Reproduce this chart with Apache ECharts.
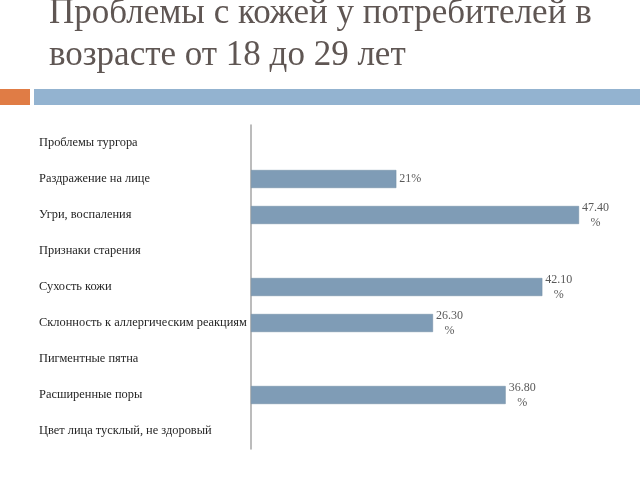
<!DOCTYPE html>
<html><head><meta charset="utf-8">
<script src="https://cdn.jsdelivr.net/npm/echarts@6/dist/echarts.min.js"></script>
<style>html,body{margin:0;padding:0;background:#fff}#c{width:640px;height:480px}</style>
</head><body><div id="c"></div>
<script>
var titleLines = ['Проблемы с кожей у потребителей в', 'возрасте от 18 до 29 лет'];
var categories = ['Проблемы тургора','Раздражение на лице','Угри, воспаления','Признаки старения','Сухость кожи','Склонность к аллергическим реакциям','Пигментные пятна','Расширенные поры','Цвет лица тусклый, не здоровый'];
var values = [null, 21, 47.4, null, 42.1, 26.3, null, 36.8, null];
var valueLabels = ['', '21%', '47.40\n%', '', '42.10\n%', '26.30\n%', '', '36.80\n%', ''];

var chart = echarts.init(document.getElementById('c'));
chart.setOption({
  animation: false,
  graphic: [
    {type:'text', left:49, top:-7, style:{text: titleLines.join('\n'), font:'35px "Liberation Serif"', fill:'#5f5653', lineHeight:42}},
    {type:'rect', shape:{x:0,y:89,width:30,height:16}, style:{fill:'#e07c45'}},
    {type:'rect', shape:{x:34,y:89,width:606,height:16}, style:{fill:'#93b3d0'}}
  ],
  grid: {left:251, right:43, top:125, bottom:31, containLabel:false},
  xAxis: {type:'value', min:0, max:50, show:false, splitLine:{show:false}},
  yAxis: {
    type:'category', data: categories, inverse:true,
    axisLine:{lineStyle:{color:'#a6a6a6', width:1.5}},
    axisTick:{show:false},
    axisLabel:{align:'left', margin:212, color:'#262626', fontFamily:'Liberation Serif', fontSize:12.4}
  },
  series: [{
    type:'bar', data: values, barWidth:'50%',
    itemStyle:{color:'#7f9cb6', borderColor:'#6e8aa3', borderWidth:0.5},
    label:{show:true, position:'right', distance:3,
      formatter:function(p){ var s = valueLabels[p.dataIndex]; return s.split('\n').map(function(t){return '{a|'+t+'}';}).join('\n'); },
      rich:{a:{align:'center', color:'#595959', fontFamily:'Liberation Serif', fontSize:12, lineHeight:15}}
    }
  }]
});
</script></body></html>
